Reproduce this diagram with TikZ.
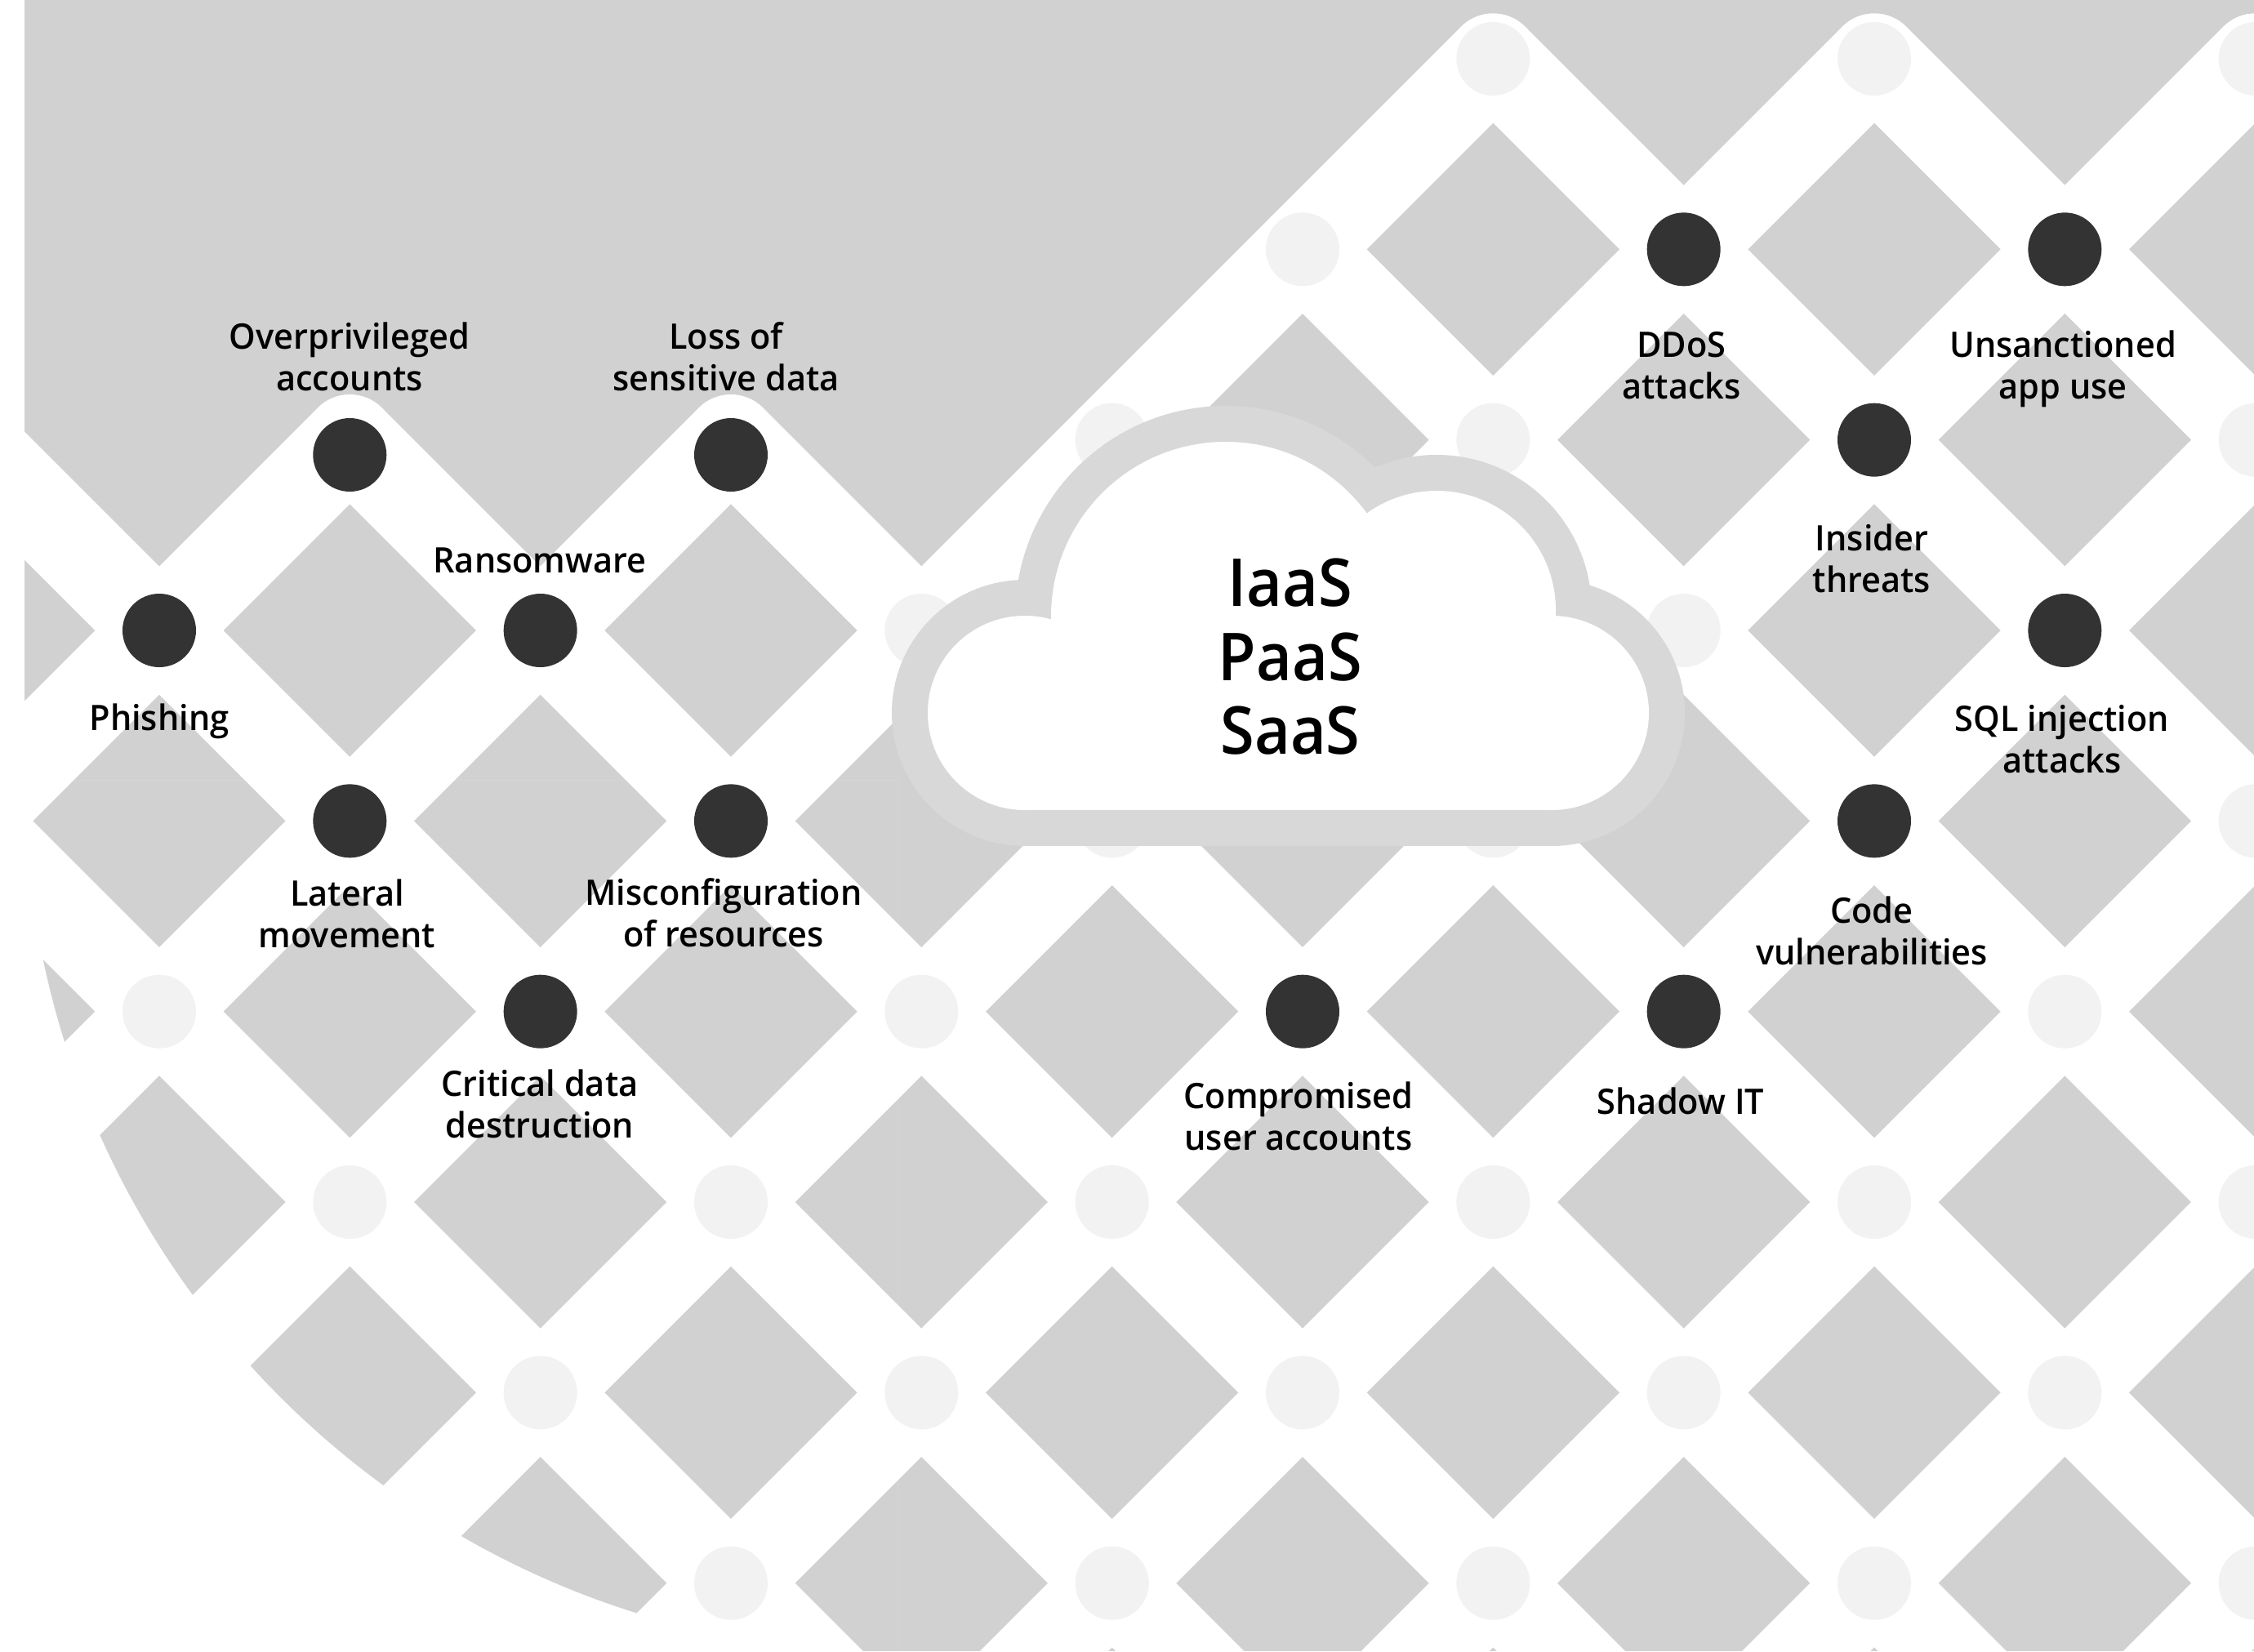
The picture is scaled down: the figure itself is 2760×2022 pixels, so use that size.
\documentclass[tikz,border=0pt]{standalone}
\usepackage{fontspec}
\setmainfont{Open Sans}
\IfFontExistsTF{Open Sans Semibold}
  {\newfontfamily\labfont{Open Sans Semibold}[FakeStretch=0.965]
   \newfontfamily\cloudfont{Open Sans Semibold}[FakeStretch=0.935]}
  {\newfontfamily\labfont{Open Sans}[FakeBold=2.6,FakeStretch=0.97]
   \newfontfamily\cloudfont{Open Sans}[FakeBold=2.6,FakeStretch=0.94]}
\definecolor{bggray}{HTML}{D1D1D1}
\definecolor{ringgray}{HTML}{D8D8D8}
\definecolor{lightdot}{HTML}{F2F2F2}
\definecolor{darkdot}{HTML}{333333}
\newcommand\twol[2]{\begin{tabular}[t]{@{}c@{}}#1\\#2\end{tabular}}
\tikzset{
  strip/.style={white, line width=111pt, line cap=round, line join=round},
  lbl/.style={anchor=base, inner sep=0pt, text=black, font=\labfont\fontsize{43}{51}\selectfont},
  cloudtxt/.style={anchor=base, inner sep=0pt, text=black, font=\cloudfont\fontsize{81}{90.5}\selectfont},
}
\begin{document}
\begin{tikzpicture}[x=1pt,y=-1pt]
\useasboundingbox (0,0) rectangle (2760,2022);
\fill[white] (0,0) rectangle (2760,2022);
\fill[bggray] (30,0) rectangle (2760,2022);
\foreach \i in {-2,...,13}{\foreach \j in {-3,...,7}{\coordinate (p\i_\j) at ({195+233.333*\i},{772+233.333*\j});}}
% white lattice strips, down-right
\draw[strip] (p9_-3) -- (p13_1);
\draw[strip] (p11_-3) -- (p13_-1);
\draw[strip] (p7_-3) -- (p13_3);
\draw[strip] (p6_-2) -- (p13_5);
\draw[strip] (p5_-1) -- (p13_7);
\draw[strip] (p3_-1) -- (p11_7);
\draw[strip] (p1_-1) -- (p9_7);
\draw[strip] (p-1_-1) -- (p7_7);
\draw[strip] (p-2_0) -- (p5_7);
\draw[strip] (p-2_2) -- (p3_7);
\draw[strip] (p-2_4) -- (p1_7);
\draw[strip] (p-2_6) -- (p-1_7);
% up-right
\draw[strip] (p-2_2) -- (p1_-1);
\draw[strip] (p-2_4) -- (p3_-1);
\draw[strip] (p-2_6) -- (p7_-3);
\draw[strip] (p-1_7) -- (p9_-3);
\draw[strip] (p1_7) -- (p11_-3);
\draw[strip] (p3_7) -- (p13_-3);
\draw[strip] (p5_7) -- (p13_-1);
\draw[strip] (p7_7) -- (p13_1);
\draw[strip] (p9_7) -- (p13_3);
\draw[strip] (p11_7) -- (p13_5);
% light dots
\foreach \p in {7_-3,9_-3,11_-3,6_-2,5_-1,7_-1,11_-1,4_0,6_0,8_0,5_1,7_1,11_1,0_2,4_2,10_2,1_3,3_3,5_3,7_3,9_3,11_3,0_4,2_4,4_4,6_4,8_4,10_4,1_5,3_5,5_5,7_5,9_5,11_5}
  \fill[lightdot] (p\p) circle[radius=45pt];
% dark dots
\foreach \p in {0_0,2_0,1_1,3_1,2_2,6_2,8_2,8_-2,10_-2,9_-1,10_0,9_1}
  \fill[darkdot] (p\p) circle[radius=45pt];
\fill[darkdot] (428.3,557) circle[radius=45pt];
\fill[darkdot] (895,557) circle[radius=45pt];
% outer mask: rounded bottom-left corner and left margin
\begin{scope}
\clip (0,955) rectangle (1099,2030);
\fill[white, even odd rule] (0,955) rectangle (1099,2030) (1099,955) circle[radius=1069pt];
\end{scope}
\fill[white] (0,-5) rectangle (30,2030);
% cloud
\fill[ringgray] (1255,873) circle[radius=163pt];
\fill[ringgray] (1501,755) circle[radius=258pt];
\fill[ringgray] (1759,747) circle[radius=190pt];
\fill[ringgray] (1900,873) circle[radius=163pt];
\fill[ringgray] (1255,760) rectangle (1900,1036);
\fill[white] (1255,873) circle[radius=119pt];
\fill[white] (1501,755) circle[radius=214pt];
\fill[white] (1759,747) circle[radius=146pt];
\fill[white] (1900,873) circle[radius=119pt];
\fill[white] (1255,760) rectangle (1900,992);
\node[cloudtxt] (svc) at (1580,742.5) {\begin{tabular}[t]{@{}c@{}}IaaS\\PaaS\\SaaS\end{tabular}};
% labels
\node[lbl] (phishing) at (195,894) {Phishing};
\node[lbl] (overpriv) at (428,427) {\twol{Overprivileged}{accounts}};
\node[lbl] (loss) at (889,427) {\twol{Loss of}{sensitive data}};
\node[lbl] (ransom) at (661,701) {Ransomware};
\node[lbl] (lateral) at (425,1109) {\twol{Lateral}{movement}};
\node[lbl] (misconf) at (886,1108) {\twol{Misconfiguration}{of resources}};
\node[lbl] (critical) at (661,1342) {\twol{Critical data}{destruction}};
\node[lbl] (comp) at (1590,1357) {\twol{Compromised}{user accounts}};
\node[lbl] (shadow) at (2058,1364) {Shadow IT};
\node[lbl] (ddos) at (2059,437) {\twol{DDoS}{attacks}};
\node[lbl] (unsanc) at (2526,437) {\twol{Unsanctioned}{app use}};
\node[lbl] (insider) at (2292,674) {\twol{Insider}{threats}};
\node[lbl] (sql) at (2525,895) {\twol{SQL injection}{attacks}};
\node[lbl] (code) at (2292,1130) {\twol{Code}{vulnerabilities}};
\end{tikzpicture}
\end{document}
